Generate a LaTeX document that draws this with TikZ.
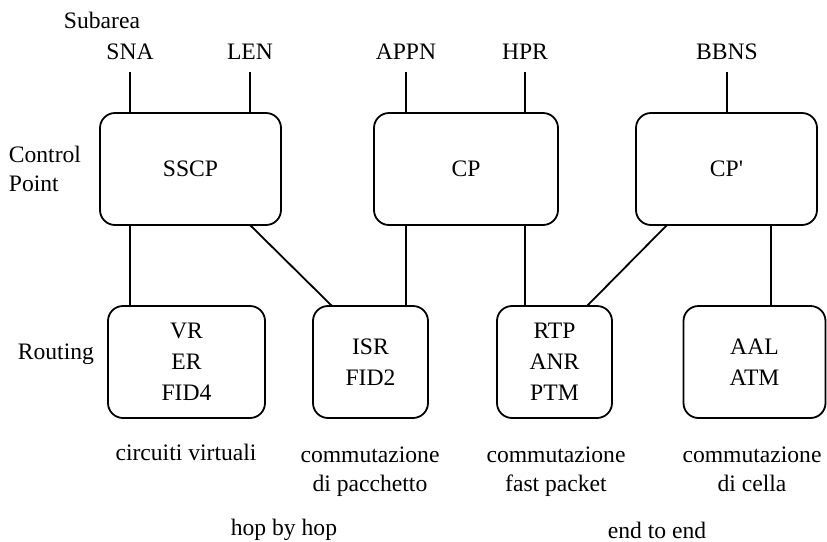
\documentclass[tikz,border=0pt]{standalone}
\usepackage{fontspec}
\setmainfont{Liberation Serif}
\newfontfamily\straightserif{Liberation Serif}
\usepackage{tikz}
\usetikzlibrary{positioning,calc}

\begin{document}
\begin{tikzpicture}[x=0.5pt, y=-0.5pt, line width=0.9pt,
    every node/.style={font=\fontsize{11.8}{14.5}\selectfont, align=center, inner sep=0pt},
    layerbox/.style={draw, rounded corners=7.5pt, minimum height=56pt, outer sep=0pt, font=\fontsize{11.8}{15.5}\selectfont},
    swlabel/.style={text depth=3pt},
    conn/.style={line width=0.9pt}]
    \useasboundingbox (0,0) rectangle (827,542);

    \node (subarea) at (102,20) {Subarea};
    \node (snalbl) at (130,52) {SNA};
    \node (lenlbl) at (250,52) {LEN};
    \node (appnlbl) at (406,52) {APPN};
    \node (hprlbl) at (525,52) {HPR};
    \node (bbnslbl) at (727,52) {BBNS};
    \coordinate (snatop) at (130,72);
    \coordinate (lentop) at (250,72);
    \coordinate (appntop) at (406,72);
    \coordinate (hprtop) at (525,72);
    \coordinate (bbnstop) at (727,72);

    \node[anchor=west, align=left] (ctrlpt) at (8,169) {Control\\Point};
    \node[anchor=west] (routing) at (17,354) {Routing};

    \node[layerbox, minimum width=90.5pt] (sscp) at (190.5,169) {SSCP};
    \node[layerbox, minimum width=92pt] (cp) at (466,169) {CP};
    \node[layerbox, minimum width=90.5pt] (cpp) at (726.5,169) {\straightserif CP'};

    \node[layerbox, minimum width=78.5pt] (vr) at (186.5,362) {VR\\ER\\FID4};
    \node[layerbox, minimum width=57.5pt] (isr) at (370.5,362) {ISR\\FID2};
    \node[layerbox, minimum width=57.5pt] (rtp) at (554.5,362) {RTP\\ANR\\PTM};
    \node[layerbox, minimum width=71pt] (aal) at (754.5,362) {AAL\\ATM};

    \draw[conn] (snatop) -- (snatop |- sscp.north);
    \draw[conn] (lentop) -- (lentop |- sscp.north);
    \draw[conn] (appntop) -- (appntop |- cp.north);
    \draw[conn] (hprtop) -- (hprtop |- cp.north);
    \draw[conn] (bbnstop) -- (bbnstop |- cpp.north);

    \draw[conn] (sscp.south -| snatop) -- (vr.north -| snatop);
    \draw[conn] (sscp.south -| lentop) -- ([xshift=9.5pt]isr.north west);
    \draw[conn] (cp.south -| appntop) -- (isr.north -| appntop);
    \draw[conn] (cp.south -| hprtop) -- (rtp.north -| hprtop);
    \draw[conn] ([xshift=15.5pt]cpp.south west) -- ([xshift=-12.5pt]rtp.north east);
    \coordinate (cppdown) at ([xshift=-23pt]cpp.south east);
    \draw[conn] (cppdown) -- (cppdown |- aal.north);

    \node[swlabel] (virtuali) at (186,455) {circuiti virtuali};
    \node[swlabel] (pacchetto) at (370,472) {commutazione\\di pacchetto};
    \node[swlabel] (fastpkt) at (556,472) {commutazione\\fast packet};
    \node[swlabel] (cella) at (752,472) {commutazione\\di cella};
    \node (hopbyhop) at (284,530) {hop by hop};
    \node (endtoend) at (657,530) {end to end};
\end{tikzpicture}
\end{document}
